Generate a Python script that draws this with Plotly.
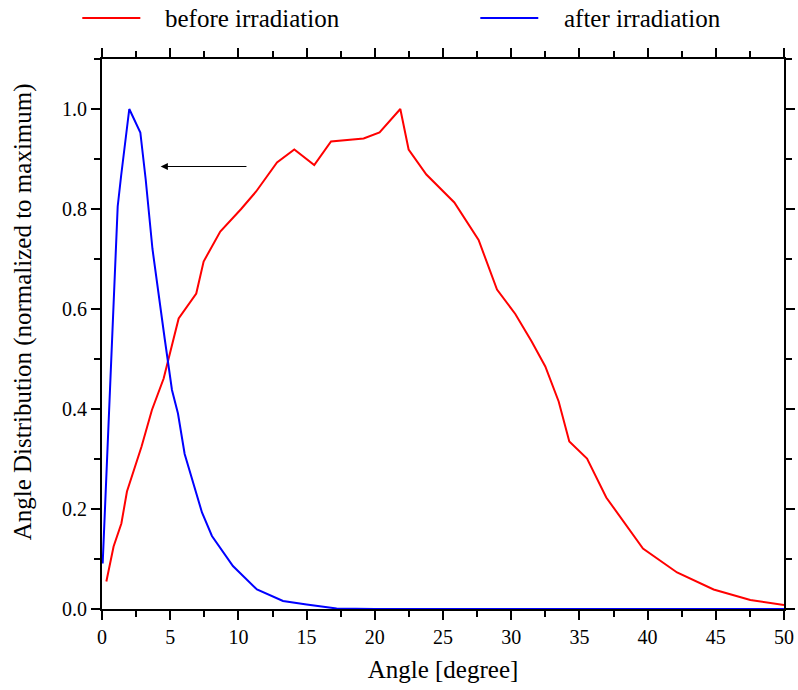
import plotly.graph_objects as go

# before irradiation (red)
before_x = [0.32, 0.85, 1.42, 1.83, 2.9, 3.66, 4.52, 5.62, 6.91, 7.45, 8.67, 10.2, 11.3,
            12.83, 14.1, 15.56, 16.79, 19.18, 20.35, 21.87, 22.48, 23.78, 25.83, 27.61,
            28.96, 30.3, 31.5, 32.5, 33.48, 34.26, 35.56, 36.97, 39.66, 42.16, 44.84,
            47.53, 50.0]
before_y = [0.055, 0.125, 0.171, 0.235, 0.325, 0.398, 0.461, 0.581, 0.631, 0.695, 0.755,
            0.80, 0.835, 0.893, 0.919, 0.888, 0.935, 0.941, 0.953, 1.0, 0.919, 0.869,
            0.813, 0.738, 0.639, 0.59, 0.535, 0.485, 0.415, 0.335, 0.301, 0.223, 0.121,
            0.073, 0.039, 0.018, 0.008]

# after irradiation (blue)
after_x = [0.05, 0.5, 0.93, 1.15, 1.4, 2.0, 2.81, 3.2, 3.7, 4.15, 4.6, 5.13, 5.57, 6.06,
           6.72, 7.33, 8.06, 9.6, 11.36, 13.27, 15.0, 17.2, 20, 25, 30, 35, 40, 45, 50]
after_y = [0.091, 0.37, 0.658, 0.805, 0.866, 1.0, 0.953, 0.86, 0.72, 0.625, 0.54, 0.438,
           0.391, 0.31, 0.251, 0.193, 0.146, 0.086, 0.039, 0.016, 0.009, 0.001, 0, 0, 0,
           0, 0, 0, 0]

x_ticks = [0, 5, 10, 15, 20, 25, 30, 35, 40, 45, 50]
y_ticks = [0.0, 0.2, 0.4, 0.6, 0.8, 1.0]

FONT = "Liberation Serif"

fig = go.Figure()
fig.add_trace(go.Scatter(x=before_x, y=before_y, mode="lines", name="before irradiation",
                         line=dict(color="#ff0000", width=2), showlegend=False))
fig.add_trace(go.Scatter(x=after_x, y=after_y, mode="lines", name="after irradiation",
                         line=dict(color="#0000ff", width=2), showlegend=False))

axis_common = dict(
    showline=True, linecolor="black", linewidth=2, mirror="allticks",
    ticks="outside", ticklen=9, tickwidth=2, tickcolor="black",
    showgrid=False, zeroline=False, layer="below traces",
    tickfont=dict(family=FONT, size=20, color="black"),
)

fig.update_xaxes(range=[0, 50], tickvals=x_ticks,
                 minor=dict(ticks="outside", ticklen=6, tickwidth=2, tickcolor="black", dtick=2.5, showgrid=False),
                 title=dict(text="Angle [degree]", font=dict(family=FONT, size=25, color="black"), standoff=13),
                 **axis_common)
fig.update_yaxes(range=[0, 1.1], tickvals=y_ticks, tickformat=".1f",
                 minor=dict(ticks="outside", ticklen=6, tickwidth=2, tickcolor="black", dtick=0.1, showgrid=False),
                 **axis_common)

# y-axis title (placed as annotation to match reference offset)
fig.add_annotation(xref="paper", yref="paper", x=-0.1154, y=0.54, xanchor="center", yanchor="middle",
                   textangle=-90, text="Angle Distribution (normalized to maximum)", showarrow=False,
                   font=dict(family=FONT, size=25, color="black"))

# arrow annotation
fig.add_annotation(x=4.3, y=0.885, ax=10.7, ay=0.885, xref="x", yref="y", axref="x", ayref="y",
                   text="", showarrow=True, arrowhead=2, arrowsize=1.2, arrowwidth=1.2, arrowcolor="black")

# manual legend
leg_y = 1.0745
fig.add_shape(type="line", xref="paper", yref="paper", x0=-0.0289, x1=0.0562, y0=leg_y, y1=leg_y,
              line=dict(color="#ff0000", width=2))
fig.add_annotation(xref="paper", yref="paper", x=0.0899, y=leg_y, xanchor="left", yanchor="middle",
                   text="before irradiation", showarrow=False, font=dict(family=FONT, size=25, color="black"))
fig.add_shape(type="line", xref="paper", yref="paper", x0=0.5547, x1=0.6397, y0=leg_y, y1=leg_y,
              line=dict(color="#0000ff", width=2))
fig.add_annotation(xref="paper", yref="paper", x=0.6746, y=leg_y, xanchor="left", yanchor="middle",
                   text="after irradiation", showarrow=False, font=dict(family=FONT, size=25, color="black"))

fig.update_layout(
    width=798, height=690,
    margin=dict(l=102, r=14, t=59, b=81, autoexpand=False),
    plot_bgcolor="white", paper_bgcolor="white",
    font=dict(family=FONT, color="black"),
    showlegend=False,
)

fig.write_html("out.html")
